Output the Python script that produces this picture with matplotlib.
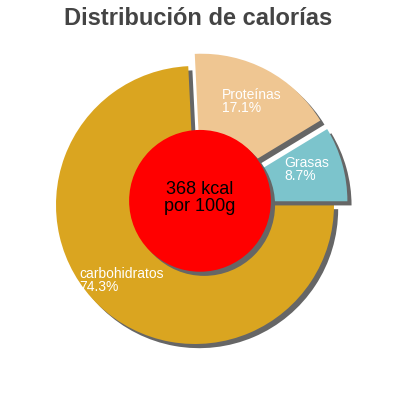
import matplotlib
matplotlib.use("Agg")
import matplotlib.pyplot as plt
from matplotlib.patches import Circle
import matplotlib.patheffects as pe

plt.rcParams['font.family'] = ['Liberation Sans', 'DejaVu Sans']

# data
categories = ["carbohidratos", "Proteínas", "Grasas"]
values = [74.3, 17.1, 8.7]
colors = ["#DAA520", "#EFC692", "#7CC4CC"]
explode = [0.0, 0.1, 0.1]
title = "Distribución de calorías"
center_text = "368 kcal\npor 100g"

# label anchor positions (data units, left aligned)
label_pos = [(-0.83, -0.545), (0.195, 0.745), (0.64, 0.255)]

fig = plt.figure(figsize=(4, 4), dpi=100)
ax = fig.add_axes([0, 0, 1, 1])
ax.set_aspect('equal')

shadow = [pe.SimplePatchShadow(offset=(3, -3), shadow_rgbFace='#666666', alpha=1.0), pe.Normal()]

wedges, _ = ax.pie(values, colors=colors, explode=explode, startangle=0,
                   counterclock=False, radius=1.0,
                   wedgeprops=dict(linewidth=0, path_effects=shadow))

circ = Circle((0.036, 0.03), 0.51, facecolor='#FF0000', edgecolor='none', zorder=5,
              path_effects=shadow)
ax.add_patch(circ)
ax.text(0.036, 0.05, center_text, ha='center', va='center', fontsize=13,
        color='black', zorder=6, linespacing=1.0)

for (x, y), cat, v in zip(label_pos, categories, values):
    ax.text(x, y, f"{cat}\n{v}%", ha='left', va='center', fontsize=10,
            color='white', zorder=6, linespacing=0.9)

ax.set_xlim(-195 / 139, 205 / 139)
ax.set_ylim(-195 / 139, 205 / 139)
ax.axis('off')

fig.text(0.495, 1 - 25 / 400, title, ha='center', va='baseline', fontsize=17,
         fontweight='bold', color='#444444')

fig.savefig("out.png", dpi=100)
